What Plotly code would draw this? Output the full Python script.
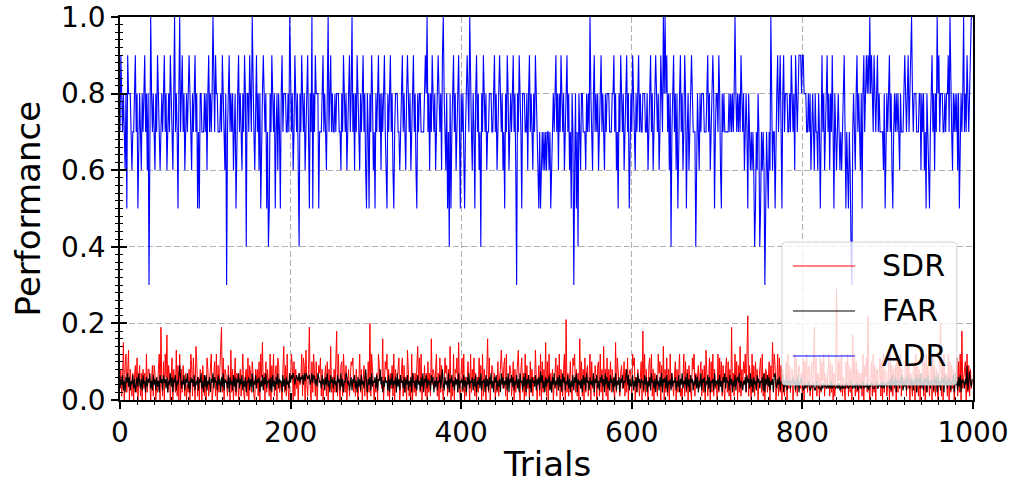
import plotly.graph_objects as go

# ---- data (one char per trial) ----
# ADR in tenths ('A' = 10 -> 1.0)
adr_tenths = [
    "7987876859 8887677897 8578768789 786837A878 7687987678",
    "7897867879 8768A78758 A789786787 8987687897 8575887778",
    "786897878A 8798877787 9876837897 8786785789 7876879848",
    "87987A8768 9786857898 7857458798 7857868758 978887787A",
    "8786798786 4879878678 97587A5879 8885777897 8768A78978",
    "7787888776 8798786789 78A7868798 7687897865 8758798675",
    "8789786878 9765878978 6578887767 8978768987 8678978658",
    "7887777898 A786879878 678987869A 8768574857 8978678975",
    "8786578987 A876875897 8674879878 6778887789 7867898786",
    "7587986787 8978638798 7588877868 9787687987 6575676767",
    "6776756787 8978687987 8678978675 8736857487 6887776878",
    "7A87689787 8678978768 7888777889 7867587987 8678978578",
    "7987687897 8778887786 7897867898 7867987A8A 8978684789",
    "7868578978 6798578678 9877747876 8788877789 7867898578",
    "8798658787 7777878787 8A87878798 7867875876 7676457687",
    "4576763576 576A767757 8978975897 8887787987 8698789998",
    "9988877878 6787687768 7589786789 7868797587 6787676789",
    "7576576437 8768978768 589789898A 8987987897 8777768578",
    "7897865787 8787687778 98789789A8 7888777886 8786758765",
    "78978687A8 9788877878 897A876878 786857878A 78798789AA",
]
# SDR in hundredths (base-36 chars)
sdr_hundredths = [
    "3815f09c27 d085170692 b059170837 0c28810591 970528c0j4",
    "1a0c6h2960 7b0852d190 c082961704 280c91b50e a160870931",
    "60b8159c02 7a1c0928aj 2b08731940 d2805b1760 4819c20781",
    "b0972a7108 581a0c6f37 0a2851c094 c1790b9251 08e291c307",
    "5c90a18360 745c1b90d4 18j30a2c51 a0497b1803 591a083e26",
    "082ai1c309 a1c7290581 6a9b261830 5c28079173 0a2k1c8705",
    "270c9563g0 5a8c180739 1c08278b04 7b19260d81 40c072719e",
    "5b2c063917 0a271g4873 8c170b2930 4b79182e05 1c087b2f30",
    "8b2c0619a4 0c285b1706 2b490c1850 8g2b079837 052a168d63",
    "9b1c065981 4a08267d30 8b270c1935 0a28164d60 591c0a283f",
    "1a0c372804 7b193c0851 8c0l2719a3 0b9c28170g 3a180b2791",
    "7c0a371960 9a1c280e38 1b084a2853 0f2b861793 5a182b0786",
    "1c9b062841 6a0i2c1830 9b4c180735 1c7a092e08 2b180c3741",
    "6a0829c130 7c1a280953 0b8c174693 6a18290d71 4b0a2c1835",
    "0c2b4a1930 8b2a180j37 1c4a092e18 3a7c29m194 0c291a3805",
    "9b2c170872 5a094f6c90 3c1b290841 6a0c392880 4c2b189737",
    "1b0a4c2891 5a08j4b176 0b2a5c1743 8c1a290717 t3a5b2c164",
    "0a3c19280h 4b1a280737 1c096b2m30 5a1c290883 6b1a0c2871",
    "4a0c291839 0b2a4c1836 5c1a390741 8a0c291807 3b1a0c2961",
    "9a0c291830 5bk1a0c476 1c0a293804 9b1a2c0i35 7a0c291835",
]
# FAR in units of 0.005 (base-36 chars)
far_halfhundredths = [
    "6b8d5a4c9e 7c5a8d6b4a c7e96b5d8a 4c7b9e6a5d 8b5c7a4d9b",
    "5d9b6c4a8e 7c4b9d5a8c ic6a8d5b9e 6a4c9b7d5a 8c5b9e6a4d",
    "7d5a8c4b9e 6c9a5d8b4c 7e5b9a6d4c 8a5d7c4b9e 6b8d5a7c4a",
    "9c5b7e4a8d 6b9c4a7d5c 8e6a9b5c4d 7a5c8e6b9a 4d7b5c8a6e",
    "9dbec8adba e9cbd8eaed bcd8ae9dc8 b7ec9a6d8b 5c8e7a4d9b",
    "6c8a4d9b5e 7b4a9ec8a5 8c5b9d6a4c 7b5d8a6cg9 4b8c5e7a9c",
    "6d5bag8c4a 7c9a5d4b8e 6a8c4e7b5d 9a6c4b8d5a 7c4e9a6b5d",
    "8a5c7e4b9d 6b8a5d9c4a 7c5a9d6bg8 5c8a6e4b9d 7a5c8b4e6a",
    "9b5d7a4c8e 6a9c5b7d4a 8c6e5a9b4d 7b5c8e6a4c 9d5a7b4e8c",
    "6a8c5e4b9d 7c5a8d6b4e 9a5c7e4b8d 6b4c9a7d5b 8c5f9d6a4c",
    "7b9d5a4c8e 6a8c5d7b4e 9c5a8d6b4a 7d5c9e4b8a 6b4d8c5e9a",
    "5c8a7e4b9d 6a5c9d7b4e 8c6a5d9b4c 7e5a8c4b9d 6a9cg8d5b7",
    "8d5a7c4e9b 6b9a5d8c4a 7c5e9a6b4d 8a5c7e4b9c 6d4a8b5e7a",
    "9c5a7d4b8e 6a8c5e7b4d 9b5a8d6c4a 7e5b9c4a8d 6c4a9b5e7a",
    "8b5d7a4c9e 6c9a5d8b4a 7d5bc9e6a8 5a8c4d9b6e 7b4c8a5d9b",
    "6a9c5e4b8d 7c5a8b4de9 6b8c5a9d4a 7c5a8b6a9c 8a5b7d4a9c",
    "7569687a75 6879657a86 7658697867 8696a67876 7869576867",
    "6897677a86 7868957876 8a67796858 7986678a67 8796a76987",
    "9a6b5d8a7c 4b9a6c8d5a 7b5d9a6c8b 5a8c4d9b6e 7a5c9b4d8a",
    "6b9a5d8c4e 7a5c9b4d8a 6c8b5a9d4e 8a5c7d4b9a 6b8i5cf97b",
]
series_names = ["SDR", "FAR", "ADR"]
series_colors = ["#ff0000", "#000000", "#0000ff"]
series_widths = [1.0, 1.1, 1.1]
x_ticks = [0, 200, 400, 600, 800, 1000]
y_ticks = [0.0, 0.2, 0.4, 0.6, 0.8, 1.0]
y_ticklabels = ["0.0", "0.2", "0.4", "0.6", "0.8", "1.0"]


def decode(chunks, divisor):
    s = "".join(chunks).replace(" ", "")
    return [int(c, 36) / divisor for c in s]


sdr = decode(sdr_hundredths, 100)
far = decode(far_halfhundredths, 200)
adr = decode(adr_tenths, 10)
values = [sdr, far, adr]

FONT = "DejaVu Sans"
fig = go.Figure()
for name, col, w, v in zip(series_names, series_colors, series_widths, values):
    fig.add_trace(go.Scatter(x=list(range(len(v))), y=v, mode="lines", name=name,
                             line=dict(color=col, width=w), showlegend=False))
# empty trace so the overlay axes (inner tick halves) are drawn
fig.add_trace(go.Scatter(x=[], y=[], xaxis="x2", yaxis="y2", showlegend=False))

grid = dict(showgrid=True, gridcolor="#b0b0b0", gridwidth=1.2, griddash="6px,3px")
fig.update_layout(
    width=1015, height=486,
    margin=dict(l=120, r=42, t=17, b=86, autoexpand=False),
    paper_bgcolor="white", plot_bgcolor="white",
    font=dict(family=FONT, color="black"),
    xaxis=dict(range=[0, 1000], tickvals=x_ticks, ticktext=[str(t) for t in x_ticks], automargin=False,
               ticklabeloverflow="allow",
               ticks="outside", ticklen=7, tickwidth=1.5, tickcolor="black",
               minor=dict(dtick=20, tick0=0, ticks="outside", ticklen=3, tickwidth=1, tickcolor="black", showgrid=False),
               showline=True, linecolor="black", linewidth=1.6, mirror=True, zeroline=False,
               tickfont=dict(size=28, family=FONT), **grid),
    yaxis=dict(range=[0, 1], tickvals=y_ticks, ticktext=y_ticklabels, automargin=False,
               ticklabeloverflow="allow",
               ticks="outside", ticklen=7, tickwidth=1.5, tickcolor="black",
               minor=dict(dtick=0.02, tick0=0, ticks="outside", ticklen=3, tickwidth=1, tickcolor="black", showgrid=False),
               showline=True, linecolor="black", linewidth=1.6, mirror=True, zeroline=False,
               tickfont=dict(size=28, family=FONT), **grid),
    xaxis2=dict(overlaying="x", range=[0, 1000], tickvals=x_ticks, ticks="inside", ticklen=7, automargin=False,
                tickwidth=1.5, tickcolor="black",
                minor=dict(dtick=20, tick0=0, ticks="inside", ticklen=3, tickwidth=1, tickcolor="black"),
                showticklabels=False, showgrid=False, showline=False, zeroline=False),
    yaxis2=dict(overlaying="y", range=[0, 1], tickvals=y_ticks, ticks="inside", ticklen=7, automargin=False,
                tickwidth=1.5, tickcolor="black",
                minor=dict(dtick=0.02, tick0=0, ticks="inside", ticklen=3, tickwidth=1, tickcolor="black"),
                showticklabels=False, showgrid=False, showline=False, zeroline=False),
)

# axis titles
fig.add_annotation(text="Trials", xref="paper", yref="paper", x=0.5, y=-0.168,
                   xanchor="center", yanchor="middle", showarrow=False, font=dict(size=34, family=FONT))
fig.add_annotation(text="Performance", xref="paper", yref="paper", x=-0.108, y=0.5, textangle=-90,
                   xanchor="center", yanchor="middle", showarrow=False, font=dict(size=34, family=FONT))

# legend box (matplotlib style)
x0, x1, y0, y1 = 0.776, 0.981, 0.039, 0.4125
rx, ry = 0.005, 0.011
path = (f"M{x0+rx},{y0} L{x1-rx},{y0} Q{x1},{y0} {x1},{y0+ry} L{x1},{y1-ry} Q{x1},{y1} {x1-rx},{y1} "
        f"L{x0+rx},{y1} Q{x0},{y1} {x0},{y1-ry} L{x0},{y0+ry} Q{x0},{y0} {x0+rx},{y0} Z")
fig.add_shape(type="path", path=path, xref="paper", yref="paper", layer="above",
              fillcolor="rgba(255,255,255,0.8)", line=dict(color="rgba(204,204,204,0.9)", width=1))
leg_y = [0.3499, 0.2324, 0.1149]
for name, col, yy in zip(series_names, series_colors, leg_y):
    fig.add_shape(type="line", xref="paper", yref="paper", x0=0.789, x1=0.8617, y0=yy, y1=yy,
                  layer="above", line=dict(color=col, width=1))
    fig.add_annotation(text=name, xref="paper", yref="paper", x=0.891, y=yy, xanchor="left",
                       yanchor="middle", showarrow=False, font=dict(size=30, family=FONT))

# remove the page's default 8px body margin so the figure sits at the window's corner
fig.write_html("out.html", config={"displayModeBar": False},
               post_script="document.body.style.margin='0';")
